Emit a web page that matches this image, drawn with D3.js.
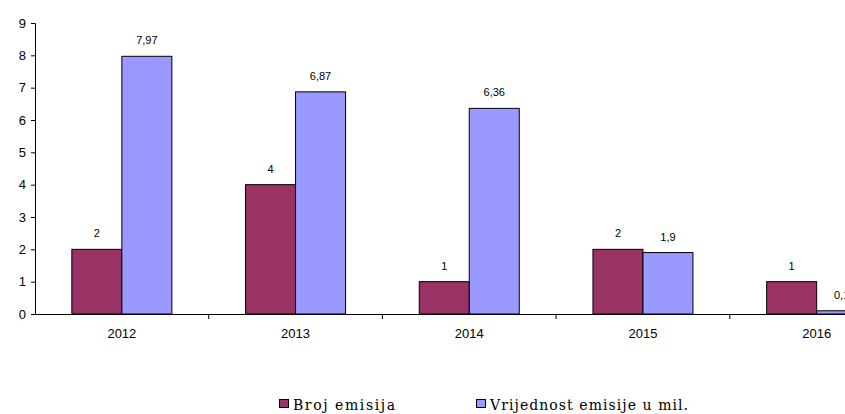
<!DOCTYPE html>
<html>
<head>
<meta charset="utf-8">
<script src="https://cdn.jsdelivr.net/npm/d3@7"></script>
<style>
  body { margin: 0; background: #fff; }
  svg { display: block; }
  .chart-text { font-family: Arial, "Liberation Sans", sans-serif; }
</style>
</head>
<body>
<svg width="845" height="414"></svg>
<script>
const years = ['2012', '2013', '2014', '2015', '2016']
const brojEmisija = [2, 4, 1, 2, 1]
const vrijednost = [7.97, 6.87, 6.36, 1.9, 0.1]
const seriesNames = ['Broj emisija', 'Vrijednost emisije u mil.']
const seriesColors = ['#993366', '#9999ff']
const yTicks = [0, 1, 2, 3, 4, 5, 6, 7, 8, 9]

const svg = d3.select('svg')
const plotLeft = 35
const plotTop = 23
const plotBottom = 314
const bandWidth = 173.7

const x = d3.scaleBand()
  .domain(years)
  .range([plotLeft, plotLeft + bandWidth * years.length])

const y = d3.scaleLinear()
  .domain([0, 9])
  .range([plotBottom, plotTop])

const barWidth = 50
const fmt = v => String(v).replace('.', ',')

// y axis
const yAxis = svg.append('g')
  .attr('transform', `translate(${plotLeft},0)`)
  .call(d3.axisLeft(y).tickValues(yTicks).tickSize(4).tickPadding(5).tickFormat(d3.format('d')))
yAxis.attr('font-family', null)
yAxis.select('.domain').attr('stroke', '#000')
yAxis.selectAll('text').attr('class', 'chart-text').attr('font-size', 13).attr('fill', '#000')

// x axis
const xAxis = svg.append('g')
  .attr('transform', `translate(0,${plotBottom})`)
  .call(d3.axisBottom(x).tickSize(0).tickPadding(15))
xAxis.attr('font-family', null)
xAxis.select('.domain').attr('stroke', '#000')
xAxis.selectAll('text').attr('class', 'chart-text').attr('font-size', 13).attr('fill', '#000')

// category boundary ticks
svg.append('g')
  .selectAll('line')
  .data(years)
  .join('line')
  .attr('x1', d => x(d) + x.bandwidth())
  .attr('x2', d => x(d) + x.bandwidth())
  .attr('y1', plotBottom)
  .attr('y2', plotBottom + 5)
  .attr('stroke', '#000')

const series = [brojEmisija, vrijednost]
series.forEach((values, s) => {
  const g = svg.append('g')
  const bx = d => x(d) + x.bandwidth() / 2 - barWidth + s * barWidth
  g.selectAll('rect')
    .data(years)
    .join('rect')
    .attr('x', d => bx(d))
    .attr('y', (d, i) => y(values[i]))
    .attr('width', barWidth)
    .attr('height', (d, i) => plotBottom - y(values[i]))
    .attr('fill', seriesColors[s])
    .attr('stroke', '#000')
    .attr('stroke-width', 1)
  g.selectAll('text')
    .data(years)
    .join('text')
    .attr('class', 'chart-text')
    .attr('x', d => bx(d) + barWidth / 2)
    .attr('y', (d, i) => y(values[i]) - 12)
    .attr('text-anchor', 'middle')
    .attr('font-size', 11)
    .attr('fill', '#000')
    .text((d, i) => fmt(values[i]))
})

// legend
const legendX = [279, 476]
const legendWidths = [102, 198]
const legend = svg.append('g')
seriesNames.forEach((name, i) => {
  legend.append('rect')
    .attr('x', legendX[i] + 0.5)
    .attr('y', 399.5)
    .attr('width', 9)
    .attr('height', 8)
    .attr('fill', seriesColors[i])
    .attr('stroke', '#000')
  legend.append('text')
    .attr('x', legendX[i] + 14)
    .attr('y', 410)
    .attr('font-family', 'DejaVu Serif')
    .attr('font-size', 14)
    .attr('textLength', legendWidths[i])
    .attr('lengthAdjust', 'spacing')
    .attr('fill', '#000')
    .text(name)
})
</script>
</body>
</html>
